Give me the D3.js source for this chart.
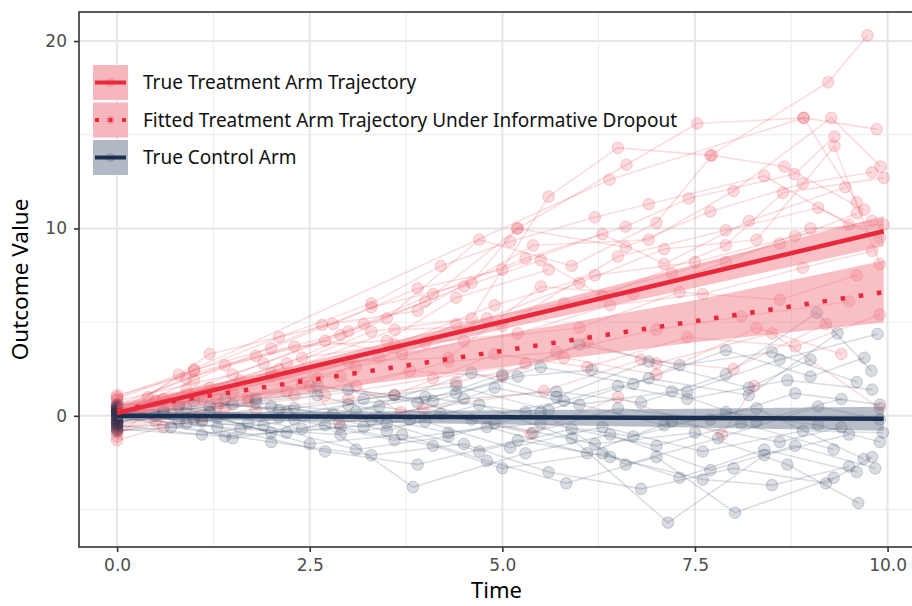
<!DOCTYPE html>
<html><head><meta charset="utf-8">
<script src="https://cdn.jsdelivr.net/npm/d3@7"></script>
<style>body{margin:0;background:#fff}svg{display:block}</style>
</head><body>
<svg id="chart" width="912" height="606"></svg>
<script>
// ---------- data ----------
const xTicks = [0, 2.5, 5, 7.5, 10];
const xTickLabels = ["0.0", "2.5", "5.0", "7.5", "10.0"];
const xMinor = [1.25, 3.75, 6.25, 8.75];
const yTicks = [0, 10, 20];
const yTickLabels = ["0", "10", "20"];
const yMinor = [-5, 5, 15];

const legendLabels = ["True Treatment Arm Trajectory",
  "Fitted Treatment Arm Trajectory Under Informative Dropout",
  "True Control Arm"];

// fitted lines and bands
const bandTimes = [0, 2.5, 5, 7.5, 9.95];
const trueTrtFit   = [0.15, 2.59, 5.02, 7.46, 9.85];
const trueTrtLower = [-0.20, 2.29, 4.62, 6.84, 9.05];
const trueTrtUpper = [0.50, 2.89, 5.42, 8.08, 10.65];
const dropTrtFit   = [0.32, 1.90, 3.47, 5.05, 6.60];
const dropTrtLower = [-0.03, 1.30, 2.62, 3.93, 4.98];
const dropTrtUpper = [0.67, 2.50, 4.32, 6.17, 8.27];
const controlFit   = [0.00, -0.04, -0.08, -0.12, -0.16];
const controlLower = [-0.20, -0.29, -0.46, -0.62, -0.80];
const controlUpper = [0.20, 0.21, 0.30, 0.38, 0.48];

// individual treatment-arm trajectories: [time, value]
const treatmentSubjects = [
  [[0,0.3],[1.2,1.5],[2.4,3.1],[3.6,3.8],[4.9,5.9],[6.2,7.5],[7.5,8.2],[8.8,9.6],[9.8,10.4]],
  [[0,-0.4],[0.8,0.6],[2.1,2.5],[3.3,4.5],[4.6,5.2],[5.6,11.7],[6.5,14.3],[7.7,13.9],[9.23,17.8],[9.74,20.3]],
  [[0,0.8],[1.5,2.2],[2.9,4.3],[4.0,6.1],[5.2,10.0],[6.61,13.4],[7.53,15.6],[8.91,15.9],[9.86,15.3]],
  [[0,-0.9],[0.5,-0.3],[1.7,0.8],[3.1,1.6],[4.3,2.9],[5.7,3.4],[7.0,4.6],[8.1,5.3],[9.5,6.1]],
  [[0,0.1],[1.0,1.9],[2.66,4.85],[3.9,5.6],[5.4,9.1],[6.9,9.4],[8.0,12.0],[9.27,15.9],[9.91,13.3]],
  [[0,0.5],[0.3,0.2],[1.3,0.9],[2.2,1.3]],
  [[0,-0.2],[0.9,1.4],[2.0,2.3],[3.4,3.1],[4.4,4.9],[5.8,6.0],[7.2,7.6],[8.6,9.2],[9.6,10.8]],
  [[0,1.1],[1.8,3.2],[3.0,4.5],[4.5,6.9],[5.5,8.3],[6.3,6.4],[7.9,9.1],[8.64,11.9],[9.95,12.7]],
  [[0,-0.6],[0.7,0.1],[2.3,1.1],[3.8,2.4],[5.0,2.1],[6.1,3.9],[7.0,2.8],[8.5,4.4],[9.9,0.4]],
  [[0,0.2],[1.1,0.9],[2.5,1.6],[2.88,-0.4],[3.97,0.4],[5.37,-0.95],[6.5,1.0],[7.85,-1.0],[8.27,1.6]],
  [[0,-1.1],[0.6,0.9],[1.9,2.8],[3.2,4.9],[4.1,6.5],[5.3,8.4],[6.6,10.1],[7.42,11.6],[8.79,12.9],[9.31,14.9]],
  [[0,0.6],[1.4,2.7],[2.7,4.0],[3.7,3.3],[4.8,5.2],[6.0,7.1],[7.1,8.9],[8.3,9.4],[9.31,14.4],[9.9,8.1]],
  [[0,-0.3],[0.4,1.0],[1.6,1.9],[2.9,2.1],[3.68,0.2],[5.54,1.33],[6.8,3.0],[8.0,2.5],[9.2,4.9]],
  [[0,0.0],[2.2,2.8],[3.5,5.2],[4.7,9.4],[5.9,8.0],[7.0,10.3],[7.72,13.9],[8.66,13.3],[9.7,11.0]],
  [[0,0.9],[1.0,2.4],[2.1,4.2],[3.3,6.0],[4.2,8.0],[5.1,9.3],[6.2,10.6],[6.9,11.3],[8.4,12.8],[9.5,10.2]],
  [[0,-0.7],[1.3,0.5],[2.6,2.0],[4.0,3.9],[5.2,4.4],[6.4,5.9],[7.6,6.5],[8.9,7.9],[9.8,8.8]],
  [[0,0.4],[0.9,2.0],[2.3,3.7],[3.5,4.0],[4.4,6.3],[5.6,7.8]],
  [[0,-0.5],[1.7,1.0],[3.0,2.9],[4.3,3.1],[5.5,6.9],[6.7,6.5],[7.9,8.2],[9.0,10.0],[9.95,10.2]],
  [[0,0.3],[0.5,0.8],[1.5,1.2],[3.1,2.6],[4.5,4.0],[6.0,4.7],[7.3,6.6],[8.6,6.2],[9.6,7.5]],
  [[0,-0.1],[1.2,3.3],[2.8,4.9],[3.9,6.8],[5.0,7.8],[6.3,9.7],[7.1,8.1],[8.2,10.4],[9.45,12.2]],
  [[0,0.2],[1.0,2.5],[6.39,12.6],[8.91,15.9],[9.6,11.4]],
  [[0,-0.8],[1.1,-0.2],[2.4,1.7],[3.6,1.1],[4.9,3.3],[6.1,2.6],[7.4,4.2],[8.8,3.7],[9.9,5.4]],
  [[0,1.0],[0.8,2.2],[2.0,3.6],[3.3,5.8],[4.6,7.1],[5.19,10.0],[6.6,9.0],[7.7,10.9],[8.9,12.4],[9.8,13.0]],
  [[0,-0.3],[1.4,0.4],[2.7,1.1],[4.1,2.0],[5.3,2.8]],
  [[0,0.5],[2.0,2.1],[3.6,4.6],[5.0,4.8],[6.5,8.5],[7.9,9.9],[9.1,11.1],[9.9,9.5]],
  [[0,-1.3],[0.6,-0.6],[1.8,0.3],[3.0,0.9],[4.4,1.8],[5.8,3.1],[7.0,2.2],[8.3,4.7],[9.4,3.3]]
];

// individual control-arm trajectories: [time, value]
const controlSubjects = [
  [[0,0.1],[1.1,-0.3],[2.3,0.4],[3.5,-0.8],[4.7,0.6],[5.9,-1.2],[7.15,-5.7],[8.4,-2.1],[9.5,-1.0]],
  [[0,-0.4],[0.8,0.5],[2.0,-0.9],[3.2,0.9],[4.4,1.6],[5.6,0.3],[6.9,2.0],[8.2,1.1],[9.35,4.4]],
  [[0,0.3],[1.5,-1.2],[2.7,-0.5],[3.84,-3.8],[5.3,-2.0],[6.4,-1.0],[7.7,-2.9],[8.8,-1.6],[9.84,-2.8]],
  [[0,-0.2],[0.6,0.3],[1.8,0.9],[3.0,1.4],[4.1,0.8],[5.2,2.1],[6.16,2.45],[7.4,1.3],[8.6,3.0],[9.87,4.37]],
  [[0,0.5],[1.3,-0.1],[2.5,-1.5],[3.7,-1.0],[4.8,-2.4],[5.83,-3.6],[7.0,-2.2],[8.02,-5.17],[9.3,-3.3]],
  [[0,-0.6],[0.9,-0.4],[2.2,0.2],[3.3,-0.2],[4.5,0.9],[5.7,1.3],[6.8,0.7],[7.9,2.2],[9.08,5.5],[9.79,2.4]],
  [[0,0.2],[1.0,0.8],[2.1,0.3],[3.6,1.1],[4.9,-0.4],[6.2,-1.5],[7.5,-0.9],[8.7,-2.6],[9.62,-4.65]],
  [[0,-0.1],[1.6,-0.7],[2.9,-1.0],[4.0,-0.3],[5.1,-1.7],[6.3,-0.6],[7.6,-1.9],[8.9,-0.8],[9.94,-0.9]],
  [[0,0.4],[0.5,0.0],[1.9,-0.5],[3.1,-1.8],[4.3,-1.1],[5.5,0.2],[6.6,-2.6],[7.8,-1.2],[9.1,0.5],[9.9,-0.2]],
  [[0,-0.3],[1.2,0.2],[2.4,-0.7],[3.4,0.5],[4.6,-0.2],[5.8,0.8],[7.1,-0.5],[8.3,0.4],[9.69,-2.3]],
  [[0,0.0],[0.7,-0.6],[2.0,-1.4],[3.3,-2.1],[4.5,-1.5],[5.6,-3.0],[6.8,-3.9],[8.0,-2.8],[9.2,-3.6],[9.8,-2.2]],
  [[0,0.6],[1.4,0.9],[2.6,1.6],[3.9,0.7],[5.0,2.2],[6.0,3.8],[7.3,2.7],[8.5,3.4],[9.6,1.8]],
  [[0,-0.5],[1.1,-1.0],[2.3,-0.2],[3.6,-1.3],[4.8,-0.6],[6.1,-2.0],[7.2,-0.3],[8.6,-1.4],[9.4,-0.6]],
  [[0,0.2],[0.9,0.4],[2.1,-0.1],[3.2,-0.6],[4.2,0.1],[5.4,-0.9],[6.5,0.4],[7.7,-0.2],[8.8,1.2],[9.9,0.6]],
  [[0,-0.8],[1.7,-0.4],[3.0,0.6],[4.4,1.2],[5.5,2.6],[6.7,1.7],[7.9,3.5],[9.0,2.1],[9.7,3.1]],
  [[0,0.3],[1.3,-0.6],[2.7,-1.9],[3.9,-2.6],[5.2,-1.3],[6.4,-2.2],[7.6,-3.4],[8.5,-3.7],[9.5,-2.7]],
  [[0,-0.2],[0.6,0.2],[1.5,0.6],[2.8,0.1],[4.0,1.0],[5.3,0.2],[6.5,1.6],[7.4,0.9],[8.7,1.9],[9.8,1.4]],
  [[0,0.1],[1.0,-0.2],[2.2,-0.9],[3.5,-0.4],[4.7,-1.9],[5.9,-0.7],[7.0,-1.6],[8.1,-0.4],[9.3,-1.8]],
  [[0,-0.4],[1.8,0.7],[3.1,0.2],[4.6,2.3],[5.7,1.0],[6.9,2.9],[8.2,1.5],[9.0,3.0]],
  [[0,0.4],[0.8,-0.3],[2.0,0.5],[3.4,-0.1],[4.3,-0.9],[5.5,-0.4],[6.7,-1.1],[7.9,0.2],[9.1,-0.5],[9.9,-1.4]],
  [[0,-0.7],[1.4,-1.1],[2.9,-0.6],[4.1,-1.6],[5.0,-2.8],[6.3,-2.0],[7.3,-3.3],[8.4,-1.8],[9.6,-3.0]],
  [[0,0.0],[1.2,0.5],[2.6,1.1],[3.8,-0.2],[4.9,1.5],[6.0,0.6],[7.2,1.3],[8.3,-0.3],[9.4,0.9]]
];

// ---------- drawing ----------
const RED = "#E8293B", NAVY = "#1B3050";
const svg = d3.select("#chart");
const panel = {left: 79, top: 12, right: 918, bottom: 547};

const x = d3.scaleLinear().domain([-0.495, 10.395]).range([panel.left, panel.right]);
const y = d3.scaleLinear().domain([-7.0, 21.55]).range([panel.bottom, panel.top]);

const defs = svg.append("defs");
defs.append("clipPath").attr("id", "clip").append("rect")
  .attr("x", panel.left).attr("y", panel.top)
  .attr("width", panel.right - panel.left).attr("height", panel.bottom - panel.top);

const g = svg.append("g");
// grid
const grid = g.append("g");
xMinor.forEach(v => grid.append("line").attr("x1", x(v)).attr("x2", x(v)).attr("y1", panel.top).attr("y2", panel.bottom).attr("stroke", "#ececec").attr("stroke-width", 1));
yMinor.forEach(v => grid.append("line").attr("y1", y(v)).attr("y2", y(v)).attr("x1", panel.left).attr("x2", panel.right).attr("stroke", "#ececec").attr("stroke-width", 1));
xTicks.forEach(v => grid.append("line").attr("x1", x(v)).attr("x2", x(v)).attr("y1", panel.top).attr("y2", panel.bottom).attr("stroke", "#e6e6e6").attr("stroke-width", 2));
yTicks.forEach(v => grid.append("line").attr("y1", y(v)).attr("y2", y(v)).attr("x1", panel.left).attr("x2", panel.right).attr("stroke", "#e6e6e6").attr("stroke-width", 2));

const plot = g.append("g").attr("clip-path", "url(#clip)");
const line = d3.line().x(d => x(d[0])).y(d => y(d[1]));

function drawSubjects(subjects, color) {
  const grp = plot.append("g");
  grp.selectAll("path.subj").data(subjects).join("path")
    .attr("d", line).attr("fill", "none").attr("stroke", color)
    .attr("stroke-opacity", 0.16).attr("stroke-width", 1.6);
  grp.selectAll("circle").data(subjects.flat()).join("circle")
    .attr("cx", d => x(d[0])).attr("cy", d => y(d[1])).attr("r", 5.8)
    .attr("fill", color).attr("fill-opacity", 0.17)
    .attr("stroke", color).attr("stroke-opacity", 0.2).attr("stroke-width", 1);
}
drawSubjects(treatmentSubjects, RED);
drawSubjects(controlSubjects, NAVY);

function band(lower, upper) {
  return d3.area().x((d, i) => x(bandTimes[i])).y0((d, i) => y(lower[i])).y1((d, i) => y(upper[i]))(bandTimes);
}
plot.append("path").attr("d", band(trueTrtLower, trueTrtUpper)).attr("fill", "#F0707F").attr("fill-opacity", 0.45);
plot.append("path").attr("d", band(dropTrtLower, dropTrtUpper)).attr("fill", "#F0707F").attr("fill-opacity", 0.45);
plot.append("path").attr("d", band(controlLower, controlUpper)).attr("fill", "#5F6F86").attr("fill-opacity", 0.45);

const fitLine = vals => d3.line().x((d, i) => x(bandTimes[i])).y((d, i) => y(vals[i]))(bandTimes);
plot.append("path").attr("d", fitLine(controlFit)).attr("fill", "none").attr("stroke", NAVY).attr("stroke-width", 4.5);
plot.append("path").attr("d", fitLine(trueTrtFit)).attr("fill", "none").attr("stroke", RED).attr("stroke-width", 4.5);
plot.append("path").attr("d", fitLine(dropTrtFit)).attr("fill", "none").attr("stroke", RED).attr("stroke-width", 4.5).attr("stroke-dasharray", "4.5,13.8");

// panel border
g.append("rect").attr("x", panel.left).attr("y", panel.top).attr("width", panel.right - panel.left).attr("height", panel.bottom - panel.top)
  .attr("fill", "none").attr("stroke", "#333").attr("stroke-width", 1.6);

// axes
const xAxis = d3.axisBottom(x).tickValues(xTicks).tickFormat((d, i) => xTickLabels[i]).tickSize(5).tickPadding(7);
const yAxis = d3.axisLeft(y).tickValues(yTicks).tickFormat((d, i) => yTickLabels[i]).tickSize(5).tickPadding(7);
const tickFont = "'DejaVu Sans', sans-serif";
const fontFam = "'Noto Sans', 'DejaVu Sans', sans-serif";
const gx = svg.append("g").attr("transform", `translate(0,${panel.bottom})`).call(xAxis);
const gy = svg.append("g").attr("transform", `translate(${panel.left},0)`).call(yAxis);
[gx, gy].forEach(a => {
  a.select(".domain").remove();
  a.selectAll(".tick line").attr("stroke", "#333").attr("stroke-width", 1.6);
  a.selectAll(".tick text").attr("fill", "#4d4d4d").style("font-size", "17px").style("font-family", tickFont);
});

svg.append("text").attr("x", (panel.left + panel.right) / 2 - 2).attr("y", 598).attr("text-anchor", "middle")
  .style("font-size", "22px").style("font-family", fontFam).attr("fill", "#000").text("Time");
svg.append("text").attr("transform", `translate(28,${(panel.top + panel.bottom) / 2}) rotate(-90)`).attr("text-anchor", "middle")
  .style("font-size", "22.5px").style("font-family", fontFam).attr("fill", "#000").text("Outcome Value");

// legend
const legend = svg.append("g");
const keyTop = [65, 102.5, 140];
const keyFill = ["#F6B6BE", "#F6B6BE", "#B1B9C4"];
const keyColor = [RED, RED, NAVY];
legendLabels.forEach((lab, i) => {
  const row = legend.append("g").attr("transform", `translate(93,${keyTop[i]})`);
  row.append("rect").attr("width", 35).attr("height", 35).attr("fill", keyFill[i]);
  row.append("circle").attr("cx", 17.5).attr("cy", 17.5).attr("r", 4).attr("fill", keyColor[i]).attr("fill-opacity", 0.15).attr("stroke", keyColor[i]).attr("stroke-opacity", 0.15);
  const l = row.append("line").attr("x1", 2).attr("x2", 33).attr("y1", 17.5).attr("y2", 17.5).attr("stroke", keyColor[i]).attr("stroke-width", 4);
  if (i === 1) l.attr("stroke-dasharray", "4,9.5");
  row.append("text").attr("x", 50).attr("y", 17.5).attr("dy", "0.35em")
    .style("font-size", "19px").style("font-family", fontFam).attr("fill", "#111").text(lab);
});
</script>
</body></html>
